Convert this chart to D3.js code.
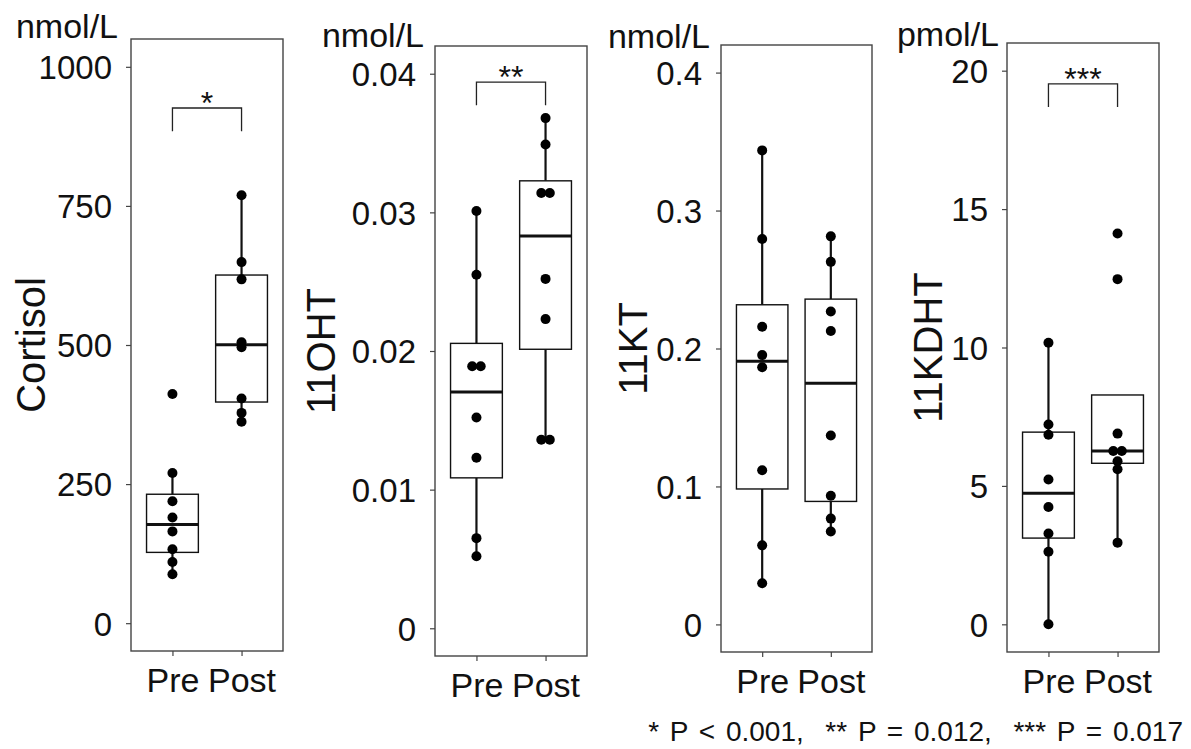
<!DOCTYPE html>
<html>
<head>
<meta charset="utf-8">
<script src="https://cdn.jsdelivr.net/npm/d3@7"></script>
<style>
  html, body { margin: 0; padding: 0; background: #fff; }
  svg { display: block; font-family: "Liberation Sans", Arial, sans-serif; }
</style>
</head>
<body>
<svg id="chart" width="1191" height="749"></svg>
<script>
// ---------------- data ----------------
const groups = ["Pre", "Post"];

const cortisolPre  = [412, 270, 219, 190, 165, 133, 110, 88];
const cortisolPost = [769, 649, 618, 505, 496, 404, 378, 362];

const ohtPre  = [0.0301, 0.0255, 0.0189, 0.0189, 0.0152, 0.0123, 0.0065, 0.0052];
const ohtPost = [0.0368, 0.0349, 0.0314, 0.0314, 0.0252, 0.0223, 0.0136, 0.0136];

const ktPre  = [0.3436, 0.2794, 0.2158, 0.1952, 0.1864, 0.1118, 0.0573, 0.0298];
const ktPost = [0.2813, 0.2628, 0.2268, 0.2127, 0.1369, 0.0933, 0.0767, 0.0673];

const kdhtPre  = [10.17, 7.22, 6.85, 5.23, 4.24, 3.28, 2.62, 0];
const kdhtPost = [14.12, 12.47, 6.89, 6.26, 6.26, 5.89, 5.6, 2.95];

const titles = ["Cortisol", "11OHT", "11KT", "11KDHT"];
const units  = ["nmol/L", "nmol/L", "nmol/L", "pmol/L"];

const cortisolTicks = [0, 250, 500, 750, 1000];
const ohtTicks      = [0, 0.01, 0.02, 0.03, 0.04];
const ktTicks       = [0, 0.1, 0.2, 0.3, 0.4];
const kdhtTicks     = [0, 5, 10, 15, 20];

const sigLabels = ["*", "**", null, "***"];
const sigLevels = [926, 0.0394, null, 19.52];

const footnote = "* P < 0.001,  ** P = 0.012,  *** P = 0.017";

// ---------------- layout (positions only) ----------------
const layout = [
  { left: 131, right: 283, top: 39, bottom: 651, titleX: 45,  unitX: 118, unitY: 38 },
  { left: 435, right: 587, top: 46, bottom: 656, titleX: 335, unitX: 424, unitY: 47 },
  { left: 721, right: 872, top: 45, bottom: 652, titleX: 647, unitX: 710, unitY: 48 },
  { left: 1007, right: 1159, top: 43, bottom: 652, titleX: 942, unitX: 999, unitY: 46 }
];

const values = [
  [cortisolPre, cortisolPost],
  [ohtPre, ohtPost],
  [ktPre, ktPost],
  [kdhtPre, kdhtPost]
];
const tickSets = [cortisolTicks, ohtTicks, ktTicks, kdhtTicks];

// ---------------- drawing ----------------
const svg = d3.select("#chart");
svg.append("rect").attr("width", 1191).attr("height", 749).attr("fill", "#fff");

function boxStats(arr) {
  const s = arr.slice().sort(d3.ascending);
  const q1 = d3.quantile(s, 0.25), med = d3.quantile(s, 0.5), q3 = d3.quantile(s, 0.75);
  const iqr = q3 - q1;
  const lo = d3.min(s.filter(v => v >= q1 - 1.5 * iqr));
  const hi = d3.max(s.filter(v => v <= q3 + 1.5 * iqr));
  return { q1, med, q3, lo, hi };
}

values.forEach((pair, i) => {
  const L = layout[i];
  const ticks = tickSets[i];
  const tmin = d3.min(ticks), tmax = d3.max(ticks);
  const pad = (tmax - tmin) * 0.05;
  const y = d3.scaleLinear().domain([tmin - pad, tmax + pad]).range([L.bottom, L.top]);
  const x = d3.scalePoint().domain(groups).range([L.left, L.right]).padding(0.6);
  const step = x.step();
  const boxW = step * 0.75;

  const g = svg.append("g");

  // frame
  g.append("rect")
    .attr("x", L.left).attr("y", L.top)
    .attr("width", L.right - L.left).attr("height", L.bottom - L.top)
    .attr("fill", "none").attr("stroke", "#444").attr("stroke-width", 1.4);

  // y axis
  const yAxis = d3.axisLeft(y).tickValues(ticks).tickFormat(d => String(d))
    .tickSize(5).tickPadding(14);
  const ya = g.append("g").attr("transform", `translate(${L.left},0)`).call(yAxis);
  ya.select(".domain").remove();
  ya.selectAll(".tick line").attr("stroke", "#444").attr("stroke-width", 1.2);
  ya.selectAll(".tick text").attr("font-size", 33).attr("fill", "#111")
    .attr("font-family", "Liberation Sans, Arial, sans-serif").attr("dy", "0.36em");

  // x axis
  const xAxis = d3.axisBottom(x).tickSize(5).tickPadding(12);
  const xa = g.append("g").attr("transform", `translate(0,${L.bottom})`).call(xAxis);
  xa.select(".domain").remove();
  xa.selectAll(".tick line").attr("stroke", "#444").attr("stroke-width", 1.2);
  xa.selectAll(".tick text").attr("font-size", 34).attr("fill", "#111")
    .attr("font-family", "Liberation Sans, Arial, sans-serif");

  // y title
  g.append("text")
    .attr("transform", `translate(${L.titleX},${(L.top + L.bottom) / 2}) rotate(-90)`)
    .attr("text-anchor", "middle")
    .attr("font-size", 40).attr("fill", "#111")
    .text(titles[i]);

  // unit label
  g.append("text")
    .attr("x", L.unitX).attr("y", L.unitY)
    .attr("text-anchor", "end")
    .attr("font-size", 34).attr("fill", "#111")
    .text(units[i]);

  // boxes
  pair.forEach((arr, j) => {
    const cx = x(groups[j]);
    const st = boxStats(arr);
    if (st.hi > st.q3) {
      g.append("line").attr("x1", cx).attr("x2", cx)
        .attr("y1", y(st.q3)).attr("y2", y(st.hi))
        .attr("stroke", "#111").attr("stroke-width", 2.2);
    }
    if (st.lo < st.q1) {
      g.append("line").attr("x1", cx).attr("x2", cx)
        .attr("y1", y(st.q1)).attr("y2", y(st.lo))
        .attr("stroke", "#111").attr("stroke-width", 2.2);
    }
    g.append("rect")
      .attr("x", cx - boxW / 2).attr("y", y(st.q3))
      .attr("width", boxW).attr("height", y(st.q1) - y(st.q3))
      .attr("fill", "#fff").attr("stroke", "#111").attr("stroke-width", 1.4);
    g.append("line")
      .attr("x1", cx - boxW / 2).attr("x2", cx + boxW / 2)
      .attr("y1", y(st.med)).attr("y2", y(st.med))
      .attr("stroke", "#111").attr("stroke-width", 3);
  });

  // points (equal values are placed side by side)
  pair.forEach((arr, j) => {
    const cx = x(groups[j]);
    const counts = d3.rollup(arr, v => v.length, d => d);
    const seen = new Map();
    arr.forEach(v => {
      const n = counts.get(v);
      const k = seen.get(v) || 0;
      seen.set(v, k + 1);
      const off = (k - (n - 1) / 2) * 8.5;
      g.append("circle")
        .attr("cx", cx + off).attr("cy", y(v)).attr("r", 5)
        .attr("fill", "#000");
    });
  });

  // significance bracket
  if (sigLabels[i]) {
    const lvl = sigLevels[i];
    const tip = (tmax - tmin + 2 * pad) * 0.038;
    const x1 = x(groups[0]), x2 = x(groups[1]);
    g.append("path")
      .attr("d", `M${x1},${y(lvl - tip)}V${y(lvl)}H${x2}V${y(lvl - tip)}`)
      .attr("fill", "none").attr("stroke", "#222").attr("stroke-width", 1.3);
    g.append("text")
      .attr("x", (x1 + x2) / 2).attr("y", y(lvl) + 6)
      .attr("text-anchor", "middle")
      .attr("font-size", 32).attr("fill", "#111")
      .text(sigLabels[i]);
  }
});

// footnote
svg.append("text")
  .attr("x", 1183).attr("y", 741)
  .attr("text-anchor", "end")
  .attr("font-size", 28).attr("fill", "#111")
  .style("white-space", "pre")
  .style("word-spacing", "3px")
  .text(footnote);
</script>
</body>
</html>
